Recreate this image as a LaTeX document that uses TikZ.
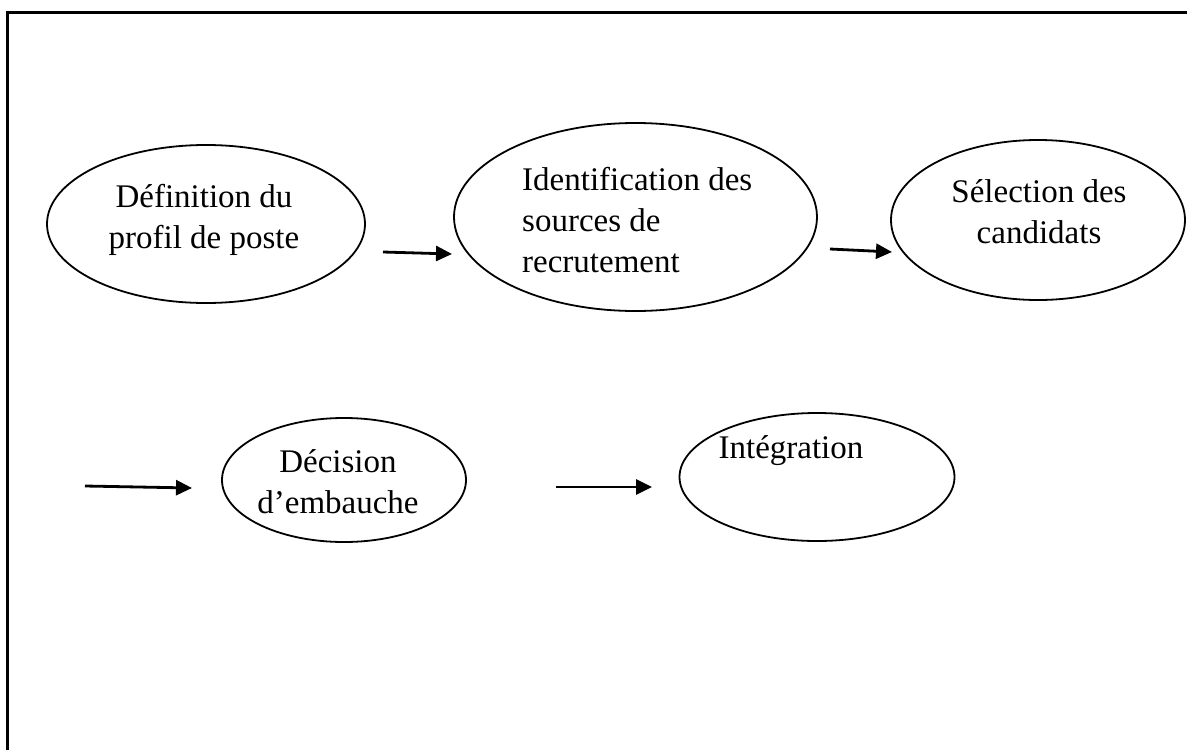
\documentclass[tikz,border=0pt]{standalone}
\usepackage{fontspec}
\setmainfont{Liberation Serif}
\usetikzlibrary{arrows.meta,shapes.geometric}

\tikzset{
  stage/.style={draw, ellipse, line width=1.8pt, inner sep=0pt},
  stagetext/.style={inner sep=0pt, font=\fontsize{33}{41}\selectfont},
  flow/.style={line width=2.8pt, -{Triangle[length=16pt,width=15pt]}},
  frameline/.style={line width=2.6pt},
}

\begin{document}
\begin{tikzpicture}[x=1pt,y=-1pt]
  \useasboundingbox (0,0) rectangle (1187,750);

  % open frame: top and left edges only
  \coordinate (fbl) at (7.5,750);
  \coordinate (ftl) at (7.5,12.5);
  \coordinate (ftr) at (1187,12.5);
  \draw[frameline] (fbl) -- (ftl) -- (ftr);

  % stages
  \node[stage, minimum width=318pt, minimum height=158pt] (e1) at (206,224) {};
  \node[stage, minimum width=363pt, minimum height=188pt] (e2) at (635.5,217) {};
  \node[stage, minimum width=294pt, minimum height=160pt] (e3) at (1038,220) {};
  \node[stage, minimum width=244pt, minimum height=124pt] (e4) at (344,480) {};
  \node[stage, minimum width=275pt, minimum height=128pt] (e5) at (817,477) {};

  % stage labels (anchored on the baseline of the last line)
  \node[stagetext, anchor=base, align=center] (t1) at (204,248) {Définition du\\profil de poste};
  \node[stagetext, anchor=base west, align=left] (t2) at (522,272) {Identification des\\sources de\\recrutement};
  \node[stagetext, anchor=base, align=center] (t3) at (1039,243) {Sélection des\\candidats};
  \node[stagetext, anchor=base, align=center] (t4) at (338,513) {Décision\\d’embauche};
  \node[stagetext, anchor=base] (t5) at (791,458) {Intégration};

  % connectors
  \coordinate (a1s) at (383,252);
  \coordinate (a1e) at (452,254);
  \coordinate (a2s) at (830,249);
  \coordinate (a2e) at (892,252);
  \coordinate (a3s) at (85,486);
  \coordinate (a3e) at (192,488);
  \coordinate (a4s) at (556,487);
  \coordinate (a4e) at (652,487);
  \draw[flow] (a1s) -- (a1e);
  \draw[flow] (a2s) -- (a2e);
  \draw[flow] (a3s) -- (a3e);
  \draw[flow] (a4s) -- (a4e);
\end{tikzpicture}
\end{document}
